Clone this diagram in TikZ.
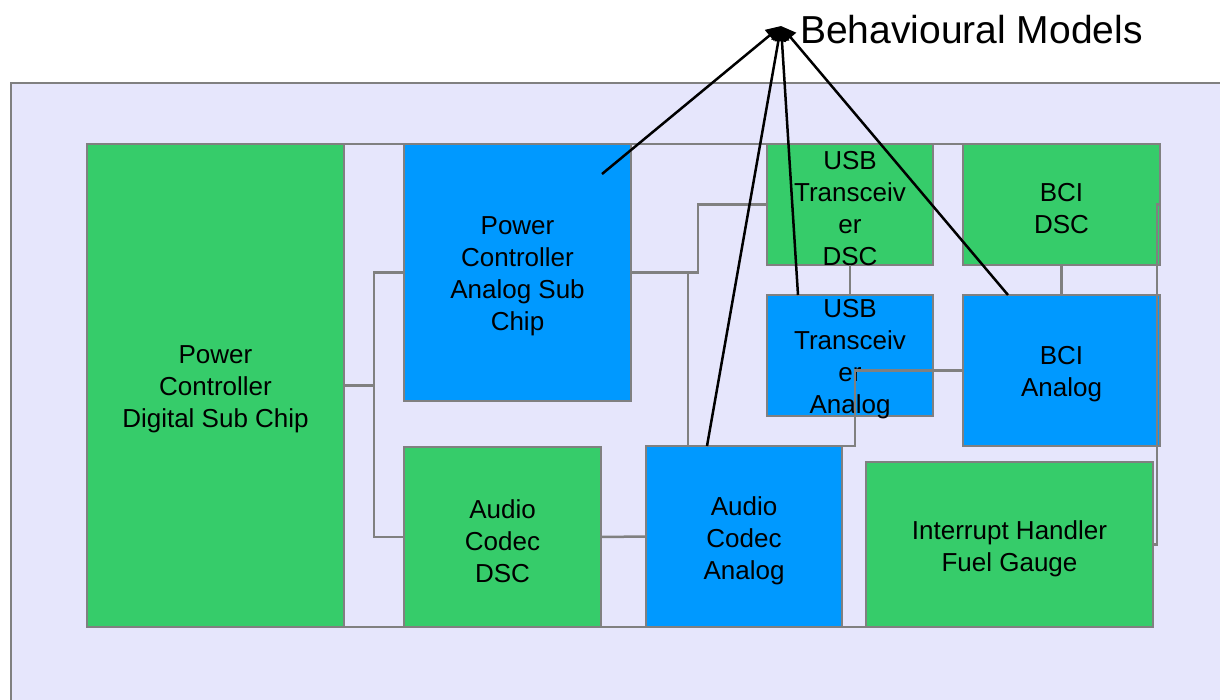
\documentclass[tikz,border=0pt]{standalone}
\usepackage{fontspec}
\setmainfont{Liberation Sans}
\usetikzlibrary{arrows.meta}
\definecolor{bgl}{RGB}{230,230,252}
\definecolor{gboxc}{RGB}{54,204,106}
\definecolor{bboxc}{RGB}{0,153,255}
\definecolor{edgec}{RGB}{128,128,128}
\begin{document}
\begin{tikzpicture}[x=1pt,y=-1pt,
  blk/.style={draw=edgec, line width=2.5pt, inner sep=0pt, outer sep=0pt},
  grn/.style={blk, fill=gboxc},
  blu/.style={blk, fill=bboxc},
  txt/.style={align=center, inner sep=0pt, yshift=-4pt, text=black,
              font=\fontsize{26}{32}\selectfont},
  wire/.style={draw=edgec, line width=2.5pt},
  bmarrow/.style={draw=black, line width=2.5pt, -{Triangle[length=15pt,width=14pt]}}
]
\useasboundingbox (0,0) rectangle (1220,700);
\clip (0,0) rectangle (1220,700);
\fill[white] (0,0) rectangle (1220,700);
\draw[draw=edgec, fill=bgl, line width=2pt] (11,83) rectangle (1240,720);

% boxes
\node[grn, minimum width=257pt, minimum height=483pt,
  label={[txt]center:{Power\\Controller\\Digital Sub Chip}}] (pcd) at (215.5,385.5) {};
\node[blu, minimum width=227pt, minimum height=257pt,
  label={[txt]center:{Power\\Controller\\Analog Sub\\Chip}}] (pca) at (517.5,272.5) {};
\node[grn, minimum width=197pt, minimum height=180pt,
  label={[txt]center:{Audio\\Codec\\DSC}}] (acd) at (502.5,537) {};
\node[blu, minimum width=196pt, minimum height=181pt,
  label={[txt]center:{Audio\\Codec\\Analog}}] (aca) at (744,536.5) {};
\node[grn, minimum width=166pt, minimum height=121pt,
  label={[txt]center:{USB\\Transceiv\\er\\DSC}}] (usbd) at (850,204.5) {};
\node[grn, minimum width=197pt, minimum height=121pt,
  label={[txt]center:{BCI\\DSC}}] (bcid) at (1061.5,204.5) {};
\node[blu, minimum width=166pt, minimum height=121pt,
  label={[txt]center:{USB\\Transceiv\\er\\Analog}}] (usba) at (850,355.5) {};
\node[blu, minimum width=197pt, minimum height=151pt,
  label={[txt]center:{BCI\\Analog}}] (bcia) at (1061.5,370.5) {};
\node[grn, minimum width=287pt, minimum height=165pt,
  label={[txt]center:{Interrupt Handler\\Fuel Gauge}}] (ih) at (1009.5,544.5) {};

% gray wires
\draw[wire] (pcd.north east) -- (pca.north west);
\draw[wire] (pca.north east) -- (usbd.north west);
\draw[wire] (usbd.north east) -- (bcid.north west);
\draw[wire] (pcd.south east) -- (acd.south west);
\draw[wire] (acd.south east) -- (aca.south west);
\draw[wire] (aca.south east) -- (ih.south west);
\draw[wire] (pcd.east) -- (374,385.5);
\draw[wire] (pca.west) -- (374,272.5) -- (374,537) -- (acd.west);
\draw[wire] (pca.east) -- (698,272.5) -- (698,204.5) -- (usbd.west);
\draw[wire] (688,272.5) -- (aca.north -| 688,0);
\draw[wire] (acd.east) -- (aca.west);
\draw[wire] (usbd.south) -- (usba.north);
\draw[wire] (bcid.south) -- (bcia.north);
\draw[wire] (bcia.west) -- (855,370.5) -- (855,446) -- (aca.north east);
\draw[wire] (bcid.east) -- (1157,204.5) -- (1157,544.5) -- (ih.east);

% title and arrows
\node[anchor=west, inner sep=0pt, font=\fontsize{39}{46}\selectfont] (bm) at (800,30) {Behavioural Models};
\coordinate (bmtip) at (781,26);
\coordinate (s1) at (602,174);
\coordinate (s2) at (707,446);
\coordinate (s3) at (798,295);
\coordinate (s4) at (1008,295);
\draw[bmarrow] (s1) -- (bmtip);
\draw[bmarrow] (s2) -- (bmtip);
\draw[bmarrow] (s3) -- (bmtip);
\draw[bmarrow] (s4) -- (bmtip);
\end{tikzpicture}
\end{document}
